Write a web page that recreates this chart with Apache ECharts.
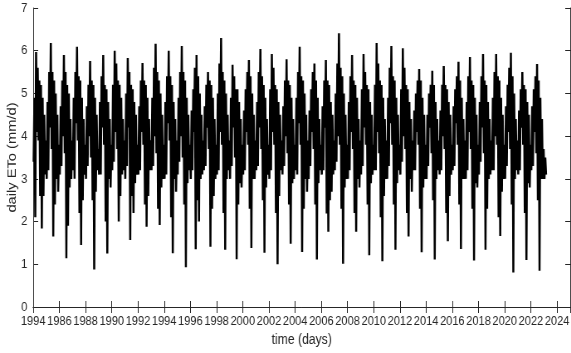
<!DOCTYPE html>
<html>
<head>
<meta charset="utf-8">
<script src="https://cdn.jsdelivr.net/npm/echarts@6/dist/echarts.min.js"></script>
<style>
  html, body { margin: 0; padding: 0; background: #fff; overflow: hidden; }
  /* the source figure is horizontally squeezed; draw wide and squeeze the same way */
  #chart { width: 688px; height: 353px; transform: scaleX(0.83); transform-origin: 0 0; }
</style>
</head>
<body>
<div id="chart"></div>
<script>
// daily ETo, 16 readings per year, starting 1984
const startYear = 1984;
const perYear = 16;

const eto1980s = [
  3.4, 4.9, 2.1, 5.97, 4.1, 5.6, 3.9, 5.3, 2.6, 5.2, 1.84, 4.9, 2.6, 4.5, 3.1, 3.9, // 1984
  3.0, 4.8, 3.2, 5.5, 4.2, 6.18, 3.7, 5.5, 1.65, 5.3, 2.4, 5.0, 3.0, 4.5, 2.7, 3.8, // 1985
  3.1, 4.7, 3.3, 5.3, 4.0, 5.9, 3.6, 5.5, 1.14, 5.2, 1.9, 5.0, 2.8, 4.4, 3.0, 3.9, // 1986
  3.2, 4.9, 3.0, 5.5, 4.3, 6.09, 3.9, 5.4, 2.2, 5.3, 1.45, 4.9, 2.5, 4.4, 3.1, 3.8, // 1987
  3.0, 4.7, 3.3, 5.2, 4.0, 5.76, 3.5, 5.3, 2.5, 5.2, 0.88, 4.9, 2.7, 4.5, 3.2, 3.7, // 1988
  3.1, 4.8, 3.1, 5.4, 4.2, 5.9, 3.8, 5.2, 2.0, 5.1, 1.25, 4.8, 3.0, 4.4, 2.8, 3.8, // 1989
];
const eto1990s = [
  3.2, 5.2, 3.4, 6.0, 4.1, 5.7, 3.7, 5.3, 2.0, 5.2, 2.6, 4.9, 3.1, 4.4, 3.2, 3.9, // 1990
  3.0, 5.0, 3.3, 5.83, 4.2, 5.5, 1.57, 5.2, 2.6, 5.1, 2.2, 4.8, 2.9, 4.5, 3.1, 3.8, // 1991
  3.1, 4.7, 3.2, 5.3, 4.1, 5.71, 3.8, 5.3, 2.4, 5.2, 1.88, 4.9, 2.6, 4.4, 3.2, 3.9, // 1992
  3.2, 4.9, 3.3, 5.6, 4.0, 6.16, 3.6, 5.5, 2.3, 5.3, 1.92, 5.0, 2.8, 4.5, 3.0, 3.8, // 1993
  3.0, 4.8, 3.1, 5.4, 4.3, 6.0, 3.9, 5.4, 2.1, 5.2, 1.26, 4.8, 3.0, 4.4, 2.7, 3.9, // 1994
  3.1, 4.9, 3.4, 5.5, 4.0, 6.11, 3.5, 5.5, 2.4, 5.3, 0.93, 4.9, 2.9, 4.5, 3.2, 3.8, // 1995
  3.0, 4.6, 3.2, 5.1, 4.1, 5.6, 1.35, 5.9, 2.5, 5.4, 2.0, 5.0, 3.0, 4.5, 3.1, 3.9, // 1996
  3.2, 4.7, 3.3, 5.2, 4.2, 5.5, 3.7, 5.3, 1.41, 5.2, 2.3, 4.9, 2.6, 4.4, 3.0, 3.8, // 1997
  3.1, 5.0, 3.2, 5.7, 4.1, 6.3, 3.8, 5.5, 2.2, 5.3, 1.34, 5.0, 3.0, 4.5, 3.2, 3.9, // 1998
  3.0, 4.9, 3.3, 5.67, 4.2, 5.4, 3.5, 5.1, 1.12, 5.1, 2.4, 4.8, 2.9, 4.4, 2.8, 3.8, // 1999
];
const eto2000s = [
  3.1, 4.6, 3.2, 5.1, 4.1, 5.5, 3.8, 5.78, 2.3, 5.4, 1.38, 5.0, 3.0, 4.5, 3.0, 3.9, // 2000
  3.2, 4.8, 3.3, 5.5, 4.2, 6.04, 3.7, 5.4, 2.5, 5.2, 1.27, 4.9, 2.8, 4.4, 3.1, 3.8, // 2001
  3.0, 5.1, 3.2, 5.92, 4.1, 5.6, 3.8, 5.2, 2.2, 5.1, 1.0, 4.8, 2.6, 4.5, 3.2, 3.9, // 2002
  3.1, 4.7, 3.3, 5.3, 4.0, 5.8, 3.6, 5.3, 2.4, 5.2, 1.48, 4.9, 2.9, 4.4, 3.0, 3.8, // 2003
  3.2, 4.9, 3.1, 5.5, 4.3, 6.09, 3.8, 5.4, 1.29, 5.3, 2.3, 5.0, 3.0, 4.5, 2.7, 3.9, // 2004
  3.0, 4.6, 3.3, 5.1, 4.1, 5.5, 3.7, 5.7, 2.4, 5.3, 1.11, 4.9, 2.9, 4.4, 3.2, 3.8, // 2005
  3.1, 4.7, 3.2, 5.3, 4.2, 5.78, 2.19, 5.3, 1.76, 5.2, 2.5, 4.8, 2.7, 4.5, 3.1, 3.9, // 2006
  3.2, 5.0, 3.4, 5.7, 4.0, 6.41, 3.8, 5.6, 2.3, 5.4, 1.01, 5.0, 2.8, 4.5, 3.0, 3.8, // 2007
  3.0, 4.8, 3.2, 5.4, 4.1, 5.9, 3.7, 5.3, 2.2, 5.2, 1.76, 4.9, 3.0, 4.4, 2.8, 3.9, // 2008
  3.1, 5.1, 3.3, 5.92, 4.2, 5.5, 3.8, 5.2, 2.4, 5.1, 1.21, 4.8, 2.9, 4.5, 3.1, 3.8, // 2009
];
const eto2010s = [
  3.2, 5.2, 3.2, 6.18, 4.1, 5.7, 3.6, 5.3, 2.1, 5.2, 1.07, 4.9, 2.6, 4.4, 3.0, 3.9, // 2010
  3.0, 4.9, 3.3, 5.6, 4.3, 6.11, 3.8, 5.4, 2.4, 5.3, 1.34, 4.9, 2.9, 4.5, 3.2, 3.8, // 2011
  3.1, 5.1, 3.4, 6.06, 4.0, 5.6, 3.7, 5.2, 2.2, 5.1, 1.65, 4.8, 3.0, 4.4, 2.7, 3.9, // 2012
  3.2, 4.6, 3.2, 5.0, 4.1, 5.3, 3.8, 5.57, 2.3, 5.3, 1.28, 4.9, 2.8, 4.5, 3.0, 3.8, // 2013
  3.0, 4.5, 3.3, 5.0, 4.2, 5.2, 3.6, 5.53, 2.5, 5.2, 1.11, 4.8, 3.0, 4.4, 3.2, 3.9, // 2014
  3.1, 4.6, 3.2, 5.2, 4.0, 5.64, 3.7, 5.2, 2.2, 5.1, 1.54, 4.8, 2.6, 4.5, 3.1, 3.8, // 2015
  3.2, 4.7, 3.3, 5.1, 4.3, 5.4, 3.8, 5.74, 2.4, 5.3, 1.36, 4.9, 3.0, 4.4, 3.0, 3.9, // 2016
  3.0, 4.8, 3.2, 5.4, 4.1, 5.85, 3.7, 5.3, 2.3, 5.2, 1.09, 4.9, 2.9, 4.5, 2.8, 3.8, // 2017
  3.1, 4.8, 3.4, 5.4, 4.2, 5.92, 3.6, 5.3, 1.34, 5.2, 2.3, 4.8, 3.0, 4.4, 3.1, 3.9, // 2018
  3.2, 4.9, 3.2, 5.5, 4.0, 5.92, 3.8, 5.4, 2.1, 5.3, 1.66, 4.9, 2.7, 4.5, 3.0, 3.8, // 2019
];
const eto2020s = [
  3.0, 4.7, 3.3, 5.2, 4.1, 5.6, 3.7, 5.95, 2.4, 5.4, 0.81, 5.0, 3.0, 4.4, 3.2, 3.9, // 2020
  3.1, 4.6, 3.2, 5.1, 4.2, 5.5, 3.8, 5.2, 2.2, 5.1, 1.10, 4.8, 2.9, 4.5, 2.8, 3.8, // 2021
  3.2, 4.7, 3.3, 5.1, 4.1, 5.4, 3.6, 5.69, 2.5, 5.3, 0.85, 4.9, 3.0, 4.4, 3.0, 3.7, // 2022
  3.0, 3.5, 3.1, // 2023 (record ends)
];

const xTicks = [1984, 1986, 1988, 1990, 1992, 1994, 1996, 1998, 2000, 2002, 2004,
  2006, 2008, 2010, 2012, 2014, 2016, 2018, 2020, 2022, 2024];
// first label is printed as "1994" in the original figure
const xTickLabels = ["1994", "1986", "1988", "1990", "1992", "1994", "1996", "1998", "2000", "2002", "2004",
  "2006", "2008", "2010", "2012", "2014", "2016", "2018", "2020", "2022", "2024"];
const yTicks = [0, 1, 2, 3, 4, 5, 6, 7];

const allValues = [].concat(eto1980s, eto1990s, eto2000s, eto2010s, eto2020s);
const points = allValues.map((v, i) => [startYear + (i + 0.5) / perYear, v]);

const axisColor = "#262626";
const font = '"Liberation Sans", Arial, sans-serif';

function xLabel(v) {
  const i = xTicks.indexOf(Math.round(v));
  return i >= 0 && Math.abs(v - xTicks[i]) < 1e-6 ? xTickLabels[i] : "";
}
function yLabel(v) {
  return yTicks.includes(v) ? String(v) : "";
}

const boxLine = { show: true, lineStyle: { color: axisColor, width: 1 } };
const innerTick = { show: true, inside: true, length: 6, lineStyle: { color: axisColor, width: 1 } };

const chart = echarts.init(document.getElementById("chart"), null, { renderer: "canvas" });
chart.setOption({
  animation: false,
  backgroundColor: "#fff",
  grid: { left: 40, right: 1, top: 8, bottom: 46, outerBoundsMode: "none" },
  xAxis: [
    {
      type: "value", position: "bottom", min: 1984, max: 2025, interval: 2,
      axisLine: boxLine, axisTick: innerTick, splitLine: { show: false },
      axisLabel: {
        formatter: xLabel, margin: 8, color: axisColor, fontFamily: font, fontSize: 13.3,
        showMinLabel: true, showMaxLabel: false,
      },
      name: "time (days)", nameLocation: "middle", nameGap: 24,
      nameTextStyle: { color: axisColor, fontFamily: font, fontSize: 14.7 },
    },
    {
      type: "value", position: "top", min: 1984, max: 2025, interval: 2,
      axisLine: boxLine, axisTick: innerTick, splitLine: { show: false },
      axisLabel: { show: false },
    },
  ],
  yAxis: [
    {
      type: "value", position: "left", min: 0, max: 7, interval: 1,
      axisLine: boxLine, axisTick: innerTick, splitLine: { show: false },
      axisLabel: { formatter: yLabel, margin: 7, color: axisColor, fontFamily: font, fontSize: 13.3 },
      name: "daily ETo (mm/d)", nameLocation: "middle", nameGap: 18, nameMoveOverlap: false,
      nameTextStyle: { color: axisColor, fontFamily: font, fontSize: 14.7 },
    },
    {
      type: "value", position: "right", min: 0, max: 7, interval: 1,
      axisLine: boxLine, axisTick: innerTick, splitLine: { show: false },
      axisLabel: { show: false },
    },
  ],
  series: [
    {
      type: "line",
      data: points,
      showSymbol: false,
      lineStyle: { color: "#000", width: 2.5 },
      emphasis: { disabled: true },
    },
  ],
});
</script>
</body>
</html>
